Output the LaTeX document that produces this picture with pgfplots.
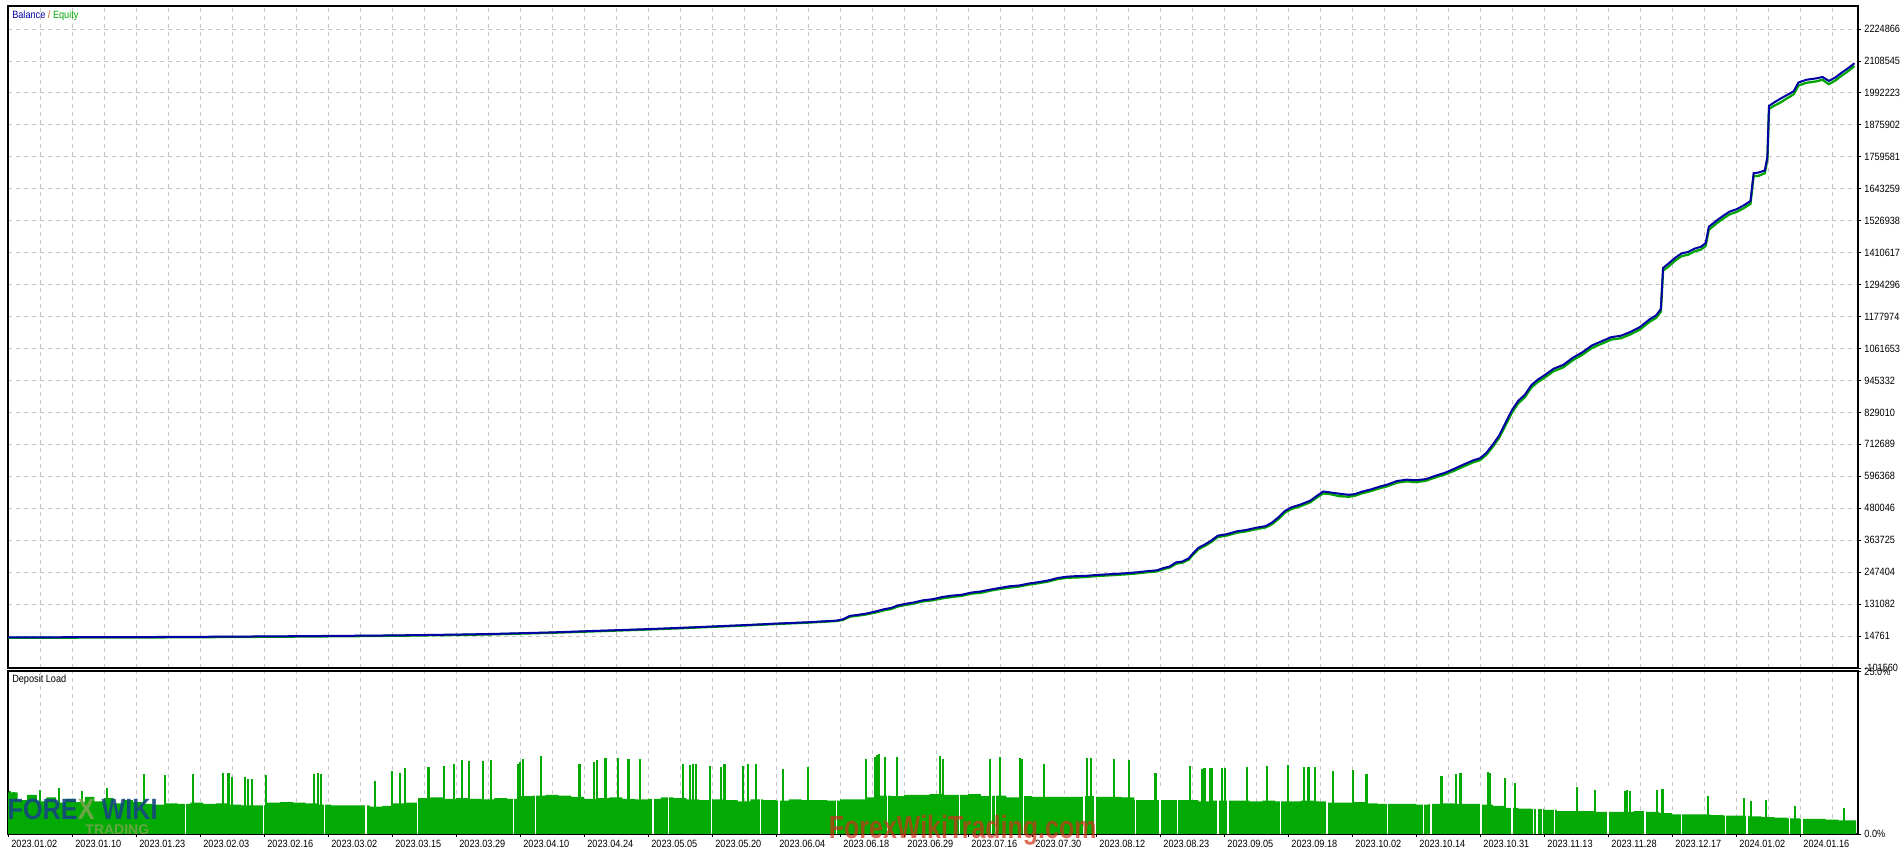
\documentclass[border=0pt]{standalone}
\usepackage{fontspec}
\setmainfont{Liberation Sans}
\newfontfamily\mtf[FakeStretch=0.87]{Liberation Sans}
\usepackage{pgfplots}
\pgfplotsset{compat=1.18}
\definecolor{bal}{RGB}{0,0,165}
\definecolor{eqt}{RGB}{0,165,0}
\definecolor{bars}{RGB}{3,170,3}
\definecolor{gridc}{RGB}{196,196,196}
\definecolor{wm}{RGB}{205,50,25}
\definecolor{logob}{RGB}{22,70,130}
\definecolor{logog}{RGB}{120,165,80}
\newcommand{\tf}{\mtf\fontsize{7.9}{9}\selectfont}
\begin{document}
\begin{tikzpicture}
\path[use as bounding box] (0pt,0pt) rectangle (1428pt,636pt);
% ---------- Balance / Equity panel ----------
\begin{axis}[
  at={(6pt,135pt)}, anchor=south west, scale only axis,
  width=1387.5pt, height=496.5pt,
  xmin=0, xmax=57.81, ymin=-101560, ymax=2308620,
  scaled y ticks=false, scaled x ticks=false,
  axis line style={line width=0.9pt},
  xtick={0,2,...,56}, minor xtick={1,3,...,57},
  xticklabels={}, xmajorgrids, xminorgrids,
  x tick style={draw=none},
  ytick={-101560,14761.3,131082.6,247403.9,363725.2,480046.5,596367.8,712689.1,829010.4,945331.7,1061653,1177974.3,1294295.6,1410616.9,1526938.2,1643259.5,1759580.8,1875902.1,1992223.4,2108544.7,2224866},
  yticklabels={-101560,14761,131082,247404,363725,480046,596368,712689,829010,945332,1061653,1177974,1294296,1410617,1526938,1643259,1759581,1875902,1992223,2108545,2224866},
  yticklabel pos=right, ytick pos=right, ymajorgrids,
  tick align=outside, major tick length=2.5pt,
  y tick style={black, line width=0.6pt},
  yticklabel style={anchor=west, font=\tf, xshift=-1.2pt},
  grid style={gridc, dash pattern=on 3pt off 3pt, line width=0.6pt},
  minor grid style={gridc, dash pattern=on 3pt off 3pt, line width=0.6pt},
]
\addplot[eqt, line width=1.7pt] coordinates {
(0.0,8500) (1.5,8800) (3.0,9300) (4.5,9700) (6.0,10500) (7.5,11500) (9.0,12700) (10.5,14000) (12.0,15500) (13.0,17000) (14.0,18500) (15.0,20500) (16.0,23500) (17.0,26500) (18.0,30500) (19.0,34500) (20.0,38500) (21.0,43000) (22.0,48000) (23.0,53000) (24.0,58500) (25.0,63500) (25.9,69500) (26.1,74000) (26.3,85000) (26.5,88000) (26.8,93000) (27.1,100000) (27.4,109000) (27.6,113000) (27.8,122000) (28.0,127000) (28.3,133000) (28.6,141000) (28.9,145000) (29.2,152000) (29.5,157000) (29.8,161000) (30.1,169000) (30.4,172000) (30.7,180000) (31.0,186000) (31.3,191000) (31.6,195000) (31.9,202000) (32.2,207000) (32.5,213000) (32.8,222000) (33.1,227000) (33.4,228000) (33.7,230000) (34.0,233000) (34.3,235000) (34.6,237000) (35.0,240000) (35.3,243000) (35.6,247000) (35.9,250000) (36.1,258000) (36.3,264000) (36.5,278000) (36.7,282000) (36.9,293000) (37.0,307000) (37.2,331000) (37.4,343000) (37.6,357000) (37.8,375000) (38.1,381000) (38.4,391000) (38.7,396000) (39.0,404000) (39.3,410000) (39.5,422000) (39.7,441000) (39.9,464000) (40.1,477000) (40.4,488000) (40.7,502000) (40.9,519000) (41.1,534000) (41.3,532000) (41.6,524000) (41.9,522000) (42.1,526000) (42.3,534000) (42.6,543000) (42.9,554000) (43.1,560000) (43.4,573000) (43.7,578000) (44.0,575000) (44.3,580000) (44.6,592000) (44.9,603000) (45.2,617000) (45.5,633000) (45.8,648000) (46.0,655000) (46.2,675000) (46.4,704000) (46.6,737000) (46.8,783000) (47.0,829000) (47.2,863000) (47.4,884000) (47.6,919000) (47.8,939000) (48.0,954000) (48.3,979000) (48.6,993000) (48.9,1019000) (49.2,1039000) (49.5,1064000) (49.8,1079000) (50.1,1094000) (50.4,1099000) (50.7,1113000) (51.0,1131000) (51.3,1159000) (51.5,1173000) (51.65,1196000) (51.72,1345000) (51.9,1361000) (52.1,1382000) (52.3,1398000) (52.5,1403000) (52.7,1415000) (52.9,1422000) (53.05,1435000) (53.15,1494000) (53.4,1518000) (53.6,1535000) (53.8,1550000) (54.0,1558000) (54.2,1570000) (54.45,1588000) (54.55,1690000) (54.7,1690000) (54.9,1700000) (54.98,1750000) (55.03,1934000) (55.2,1946000) (55.4,1958000) (55.6,1973000) (55.8,1987000) (55.95,2019000) (56.2,2029000) (56.5,2034000) (56.7,2040000) (56.9,2024000) (57.1,2037000) (57.3,2055000) (57.5,2071000) (57.7,2090000)
};
\addplot[bal, line width=1.5pt] coordinates {
(0.0,10000) (1.5,10300) (3.0,10800) (4.5,11200) (6.0,12000) (7.5,13000) (9.0,14200) (10.5,15500) (12.0,17000) (13.0,18500) (14.0,20000) (15.0,22000) (16.0,25000) (17.0,28000) (18.0,32000) (19.0,36000) (20.0,40000) (21.0,44500) (22.0,49500) (23.0,54500) (24.0,60000) (25.0,65000) (25.9,71000) (26.1,76000) (26.3,88000) (26.5,91000) (26.8,96000) (27.1,104000) (27.4,113000) (27.6,117000) (27.8,126000) (28.0,131000) (28.3,137000) (28.6,145000) (28.9,149000) (29.2,157000) (29.5,162000) (29.8,165000) (30.1,173000) (30.4,177000) (30.7,184000) (31.0,190000) (31.3,196000) (31.6,199000) (31.9,206000) (32.2,211000) (32.5,217000) (32.8,226000) (33.1,231000) (33.4,233000) (33.7,234000) (34.0,237000) (34.3,239000) (34.6,241000) (35.0,244000) (35.3,247000) (35.6,251000) (35.9,254000) (36.1,262000) (36.3,268000) (36.5,283000) (36.7,286000) (36.9,298000) (37.0,312000) (37.2,336000) (37.4,348000) (37.6,362000) (37.8,380000) (38.1,386000) (38.4,396000) (38.7,401000) (39.0,409000) (39.3,415000) (39.5,428000) (39.7,447000) (39.9,470000) (40.1,483000) (40.4,494000) (40.7,508000) (40.9,525000) (41.1,541000) (41.3,538000) (41.6,533000) (41.9,529000) (42.1,532000) (42.3,540000) (42.6,549000) (42.9,560000) (43.1,566000) (43.4,579000) (43.7,584000) (44.0,582000) (44.3,586000) (44.6,598000) (44.9,609000) (45.2,624000) (45.5,640000) (45.8,655000) (46.0,662000) (46.2,682000) (46.4,712000) (46.6,745000) (46.8,792000) (47.0,838000) (47.2,872000) (47.4,893000) (47.6,928000) (47.8,948000) (48.0,963000) (48.3,988000) (48.6,1002000) (48.9,1028000) (49.2,1048000) (49.5,1073000) (49.8,1088000) (50.1,1103000) (50.4,1108000) (50.7,1122000) (51.0,1140000) (51.3,1168000) (51.5,1182000) (51.65,1205000) (51.72,1355000) (51.9,1372000) (52.1,1392000) (52.3,1408000) (52.5,1413000) (52.7,1425000) (52.9,1432000) (53.05,1445000) (53.15,1505000) (53.4,1528000) (53.6,1545000) (53.8,1560000) (54.0,1568000) (54.2,1580000) (54.45,1598000) (54.55,1700000) (54.7,1702000) (54.9,1710000) (54.98,1760000) (55.03,1945000) (55.2,1958000) (55.4,1972000) (55.6,1985000) (55.8,1998000) (55.95,2030000) (56.2,2040000) (56.5,2045000) (56.7,2050000) (56.9,2036000) (57.1,2048000) (57.3,2066000) (57.5,2082000) (57.7,2100000)
};
\end{axis}
% ---------- Deposit load panel ----------
\begin{axis}[
  at={(6pt,10.5pt)}, anchor=south west, scale only axis,
  width=1387.5pt, height=122.25pt,
  xmin=0, xmax=57.81, ymin=0, ymax=25,
  scaled y ticks=false, scaled x ticks=false,
  axis line style={line width=0.9pt},
  xtick={0,2,...,56}, minor xtick={1,3,...,57},
  xmajorgrids, xminorgrids,
  xticklabels={2023.01.02,2023.01.10,2023.01.23,2023.02.03,2023.02.16,2023.03.02,2023.03.15,2023.03.29,2023.04.10,2023.04.24,2023.05.05,2023.05.20,2023.06.04,2023.06.18,2023.06.29,2023.07.16,2023.07.30,2023.08.12,2023.08.23,2023.09.05,2023.09.18,2023.10.02,2023.10.14,2023.10.31,2023.11.13,2023.11.28,2023.12.17,2024.01.02,2024.01.16},
  xtick pos=bottom, xticklabel style={anchor=north west, font=\tf, xshift=-1pt, yshift=1.5pt},
  ytick={0,25}, yticklabels={0.0\%,{\raisebox{-7.5pt}{25.0\%}}},
  yticklabel pos=right, ytick pos=right,
  yticklabel style={anchor=west, font=\tf, xshift=-1.2pt},
  tick align=outside, major tick length=2.5pt,
  tick style={black, line width=0.6pt},
  minor tick style={draw=none},
  grid style={gridc, dash pattern=on 3pt off 3pt, line width=0.6pt},
  minor grid style={gridc, dash pattern=on 3pt off 3pt, line width=0.6pt},
]
\addplot[const plot, fill=bars, draw=none] coordinates {
(0.0,6.4) (0.3,5.2) (0.6,6.0) (0.9,5.0) (1.2,5.6) (1.5,4.8) (1.8,5.4) (2.1,4.9) (2.4,5.7) (2.7,5.0) (3.0,5.5) (3.3,4.7) (3.6,5.2) (3.9,4.9) (4.2,4.6) (4.5,4.5) (4.9,4.7) (5.3,4.6) (5.7,4.8) (6.1,4.6) (6.5,4.7) (6.9,4.5) (7.3,4.4) (7.7,4.4) (8.1,4.8) (8.5,4.9) (8.9,4.8) (9.3,4.7) (9.7,4.5) (10.1,4.4) (10.5,4.4) (10.9,4.4) (11.3,4.2) (11.7,4.3) (12.0,4.7) (12.4,4.8) (12.8,5.5) (13.2,5.6) (13.6,5.4) (14.0,5.5) (14.4,5.4) (14.8,5.3) (15.2,5.5) (15.6,5.4) (16.0,5.8) (16.4,5.9) (16.8,6.0) (17.2,5.9) (17.6,5.7) (18.0,5.4) (18.4,5.5) (18.8,5.6) (19.2,5.4) (19.6,5.3) (20.0,5.4) (20.4,5.6) (20.8,5.5) (21.2,5.3) (21.6,5.2) (22.0,5.3) (22.4,5.2) (22.8,5.0) (23.2,5.3) (23.6,5.2) (24.0,5.1) (24.4,5.3) (24.8,5.2) (25.2,5.2) (25.6,5.1) (26.0,5.3) (26.4,5.3) (26.8,5.6) (27.2,5.9) (27.6,5.8) (28.0,6.0) (28.4,6.0) (28.8,6.1) (29.2,6.0) (29.6,6.0) (30.0,6.1) (30.4,5.8) (30.8,5.9) (31.2,5.6) (31.6,5.8) (32.0,5.7) (32.4,5.7) (32.8,5.7) (33.2,5.7) (33.6,5.8) (34.0,5.7) (34.4,5.7) (34.8,5.6) (35.2,5.2) (35.6,5.2) (36.0,5.2) (36.4,5.2) (36.8,5.2) (37.2,5.0) (37.6,5.1) (38.0,5.1) (38.4,5.1) (38.8,5.0) (39.2,5.1) (39.6,5.0) (40.0,5.0) (40.4,5.1) (40.8,5.0) (41.2,4.8) (41.6,4.8) (42.0,4.9) (42.4,4.7) (42.8,4.6) (43.2,4.6) (43.6,4.6) (44.0,4.5) (44.4,4.6) (44.8,4.7) (45.2,4.6) (45.6,4.6) (46.0,4.5) (46.4,4.3) (46.8,4.0) (47.2,3.9) (47.6,3.8) (48.0,3.7) (48.4,3.5) (48.8,3.5) (49.2,3.5) (49.6,3.4) (50.0,3.4) (50.4,3.4) (50.8,3.5) (51.2,3.4) (51.6,3.2) (52.0,3.0) (52.4,3.0) (52.8,3.0) (53.2,2.9) (53.6,2.8) (54.0,2.8) (54.4,2.7) (54.8,2.6) (55.2,2.5) (55.6,2.4) (56.0,2.3) (56.4,2.3) (56.8,2.2) (57.2,2.1) (57.75,2.1)
} \closedcycle;
\addplot[ycomb, draw=white, line width=1pt, mark=none] coordinates {
(5.54,7) (7.98,7) (9.9,7) (11.19,7) (12.79,7) (14.4,7) (15.79,7) (16.49,7) (20.16,7) (20.63,7) (21.97,7) (23.51,7) (24.09,7) (25.88,7) (27.48,7) (29.74,7) (30.72,7) (30.86,7) (31.74,7) (33.62,7) (33.97,7) (35.23,7) (36.0,7) (36.55,7) (37.81,7) (38.12,7) (39.76,7) (41.22,7) (43.11,7) (44.23,7) (44.47,7) (46.03,7) (47.0,7) (47.66,7) (47.78,7) (47.96,7) (48.32,7) (50.0,7) (51.15,7) (52.29,7) (53.68,7) (54.34,7) (55.66,7) (56.06,7)
};
\addplot[ycomb, draw=bars, line width=1.6pt, mark=none] coordinates {
(0.05,6.6) (0.2,6.5) (1.0,6.8) (1.6,7.0) (2.3,6.6) (3.1,7.1)
(4.24,9.15) (4.91,9.05) (5.78,9.2) (6.73,9.3) (6.89,9.3) (7.0,8.8) (7.40,8.7) (7.51,8.5) (7.63,8.4) (8.06,9.05) (9.57,9.2) (9.68,9.3) (9.77,9.2) (11.47,8.1) (12.0,9.7) (12.24,9.4) (12.40,10.1) (13.14,10.3) (13.63,10.4) (13.94,10.7) (14.19,11.35) (14.40,11.2) (14.85,11.2) (15.10,11.35) (15.93,10.8) (16.0,11.1) (16.1,11.45) (16.66,11.96) (17.86,10.7) (18.3,11.1) (18.4,11.35) (18.67,11.7) (19.07,11.6) (19.39,11.45) (19.76,11.55) (21.1,10.7) (21.3,10.6) (21.4,10.7) (21.51,10.8)
(21.93,10.4) (22.29,10.2) (22.39,10.7) (22.98,10.4) (23.12,10.8) (23.37,10.8) (24.23,9.97) (25.0,10.2) (26.82,11.5) (27.09,11.86) (27.16,12.06) (27.23,12.2) (27.41,11.86) (27.79,11.86) (29.12,11.9) (29.23,11.45) (30.69,11.5) (30.99,11.8) (31.63,11.65) (31.70,11.5) (32.37,10.7) (33.73,11.65) (33.85,11.65) (34.56,11.45) (35.03,11.35) (35.86,9.3) (36.93,10.5) (37.32,9.97) (37.39,10.1) (37.56,10.1) (37.63,10.1) (37.93,10.1) (38.02,10.1) (38.72,10.3) (39.34,10.4) (39.99,10.6)
(40.50,10.2) (40.64,10.2) (40.83,10.2) (41.40,9.66) (42.02,9.8) (42.45,9.15) (44.77,8.9) (44.82,8.9) (45.24,9.15) (45.39,9.3) (46.25,9.46) (46.31,9.3) (46.78,8.6) (47.08,7.8) (49.02,7.16) (49.58,6.75) (50.52,6.65) (50.58,6.75) (50.69,6.54) (51.52,6.75) (51.70,6.9) (53.11,5.83) (54.24,5.5) (54.46,5.06) (54.93,5.2) (55.83,4.35) (57.36,4.0)
};
\end{axis}
% ---------- panel titles ----------
\node[anchor=west, font=\tf, inner sep=0pt] at (9pt,624.5pt)
  {\textcolor{bal}{Balance} \textcolor{orange!75!black}{/} \textcolor{eqt}{Equity}};
\node[anchor=west, font=\tf, inner sep=0pt] at (9pt,126pt) {Deposit Load};
% ---------- watermarks ----------
\node[font=\fontsize{22}{22}\selectfont\bfseries, text=logob, opacity=0.9, xscale=0.86, inner sep=0pt] at (62pt,29pt)
  {FORE\textcolor{logog}{X} WIKI};
\node[font=\fontsize{10.5}{10.5}\selectfont\bfseries, text=logog, opacity=0.85, inner sep=0pt] at (88pt,13.5pt) {TRADING};
\node[font=\fontsize{24}{24}\selectfont\bfseries, text=wm, opacity=0.7, xscale=0.78, inner sep=0pt] at (722pt,13pt)
  {ForexWikiTrading.com};
\end{tikzpicture}
\end{document}
